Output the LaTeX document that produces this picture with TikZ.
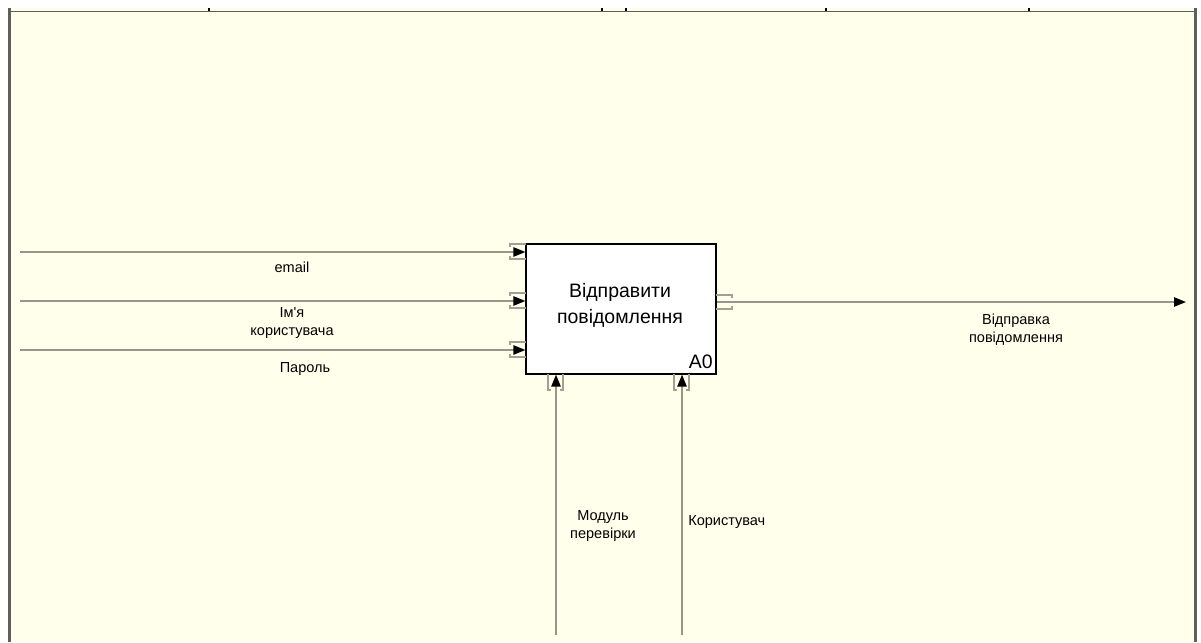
\documentclass[tikz,border=0pt]{standalone}
\usepackage{fontspec}
\newfontfamily\diafont{Liberation Sans}
\usetikzlibrary{arrows.meta}
\definecolor{sheet}{RGB}{255,255,235}
\definecolor{frameline}{RGB}{96,96,90}
\definecolor{arrowline}{RGB}{150,150,140}
\definecolor{bracket}{RGB}{160,160,150}
\tikzset{
  flow/.style={draw=arrowline, line width=1.1pt, -{Triangle[length=9pt,width=7pt,fill=black,color=black]}},
  tunnel/.style={draw=bracket, line width=0.9pt},
  lbl/.style={font=\diafont\fontsize{10.9}{13.5}\selectfont, align=center, inner sep=0pt},
  actbox/.style={draw=black, line width=0.9pt, fill=white, minimum width=142.5pt, minimum height=97.5pt, inner sep=0pt},
}
\begin{document}
\begin{tikzpicture}[x=0.75pt,y=-0.75pt]
\useasboundingbox (0,0) rectangle (1201,642);
% drawing sheet
\fill[white] (0,0) rectangle (1201,642);
\fill[sheet] (9,8) rectangle (1196,642);
\draw[frameline, line width=1.1pt] (9,11.5) -- (1196,11.5);
\draw[frameline, line width=1.6pt] (9.5,8) -- (9.5,642);
\draw[frameline, line width=1.6pt] (1195.5,8) -- (1195.5,642);
\foreach \tx in {209,602,626,826,1029}
  \draw[black, line width=0.8pt] (\tx,8) -- (\tx,11.5);

% activity
\node[actbox] (box) at (621,309) {};
\node[font=\diafont\fontsize{14.6}{19.5}\selectfont, align=center] (boxname) at (620,305) {Відправити\\повідомлення};
\node[font=\diafont\fontsize{14.6}{16}\selectfont, anchor=east, inner sep=0pt] (boxid) at (713,362) {A0};

% inputs
\coordinate (in1) at (20,252);
\coordinate (in2) at (20,301);
\coordinate (in3) at (20,350);
\draw[flow] (in1) -- (in1 -| box.west);
\draw[flow] (in2) -- (in2 -| box.west);
\draw[flow] (in3) -- (in3 -| box.west);
\foreach \y in {252,301,350}{
  \draw[tunnel] (526,\y-8) -- (510,\y-8) -- (510,\y-5);
  \draw[tunnel] (526,\y+7) -- (510,\y+7) -- (510,\y+4);
}
\node[lbl] (email) at (292,267) {email};
\node[lbl] (user) at (292,323) {Ім'я\\користувача};
\node[lbl] (pass) at (305,369) {Пароль};

% output
\coordinate (out) at (1186,302);
\draw[flow] (box.east |- out) -- (out);
\draw[tunnel] (716,295) -- (732,295) -- (732,298);
\draw[tunnel] (716,309) -- (732,309) -- (732,306);
\node[lbl] (sent) at (1016,330) {Відправка\\повідомлення};

% mechanisms
\coordinate (m1) at (556,635);
\coordinate (m2) at (682,635);
\draw[flow] (m1) -- (m1 |- box.south);
\draw[flow] (m2) -- (m2 |- box.south);
\foreach \x in {556,682}{
  \draw[tunnel] (\x-8,374) -- (\x-8,390) -- (\x-5,390);
  \draw[tunnel] (\x+7,374) -- (\x+7,390) -- (\x+4,390);
}
\node[lbl] (check) at (603,526) {Модуль\\перевірки};
\node[lbl, anchor=west] (person) at (688,522) {Користувач};
\end{tikzpicture}
\end{document}
